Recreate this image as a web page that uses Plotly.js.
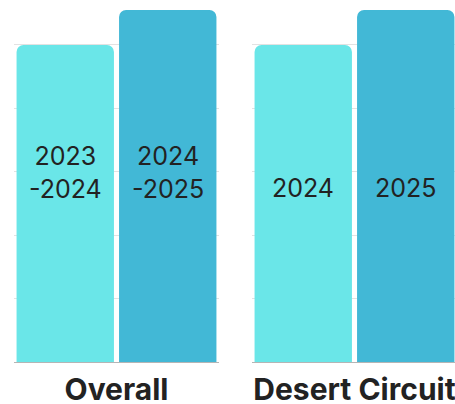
<!DOCTYPE html>
<html>
<head>
<meta charset="utf-8">
<script src="https://cdn.plot.ly/plotly-3.0.1.min.js"></script>
<style>html,body{margin:0;padding:0;background:#fff;}#chart{width:455px;height:404px;}</style>
</head>
<body>
<div id="chart"></div>
<script>
// Data
const groups = ['Overall', 'Desert Circuit'];
const seriesPrevValues = [100, 100];
const seriesCurrValues = [111, 111];
const seriesPrevLabels = ['2023<br>-2024', '2024'];
const seriesCurrLabels = ['2024<br>-2025', '2025'];

const colorPrev = '#6AE6E8';
const colorCurr = '#42B8D6';
const axisMax = 111;

const traces = [];
const annotations = [];
groups.forEach((g, i) => {
  const xa = i === 0 ? 'x' : 'x2';
  const ya = i === 0 ? 'y' : 'y2';
  traces.push({type: 'bar', x: [g], y: [seriesPrevValues[i]], xaxis: xa, yaxis: ya,
    marker: {color: colorPrev}, hoverinfo: 'none', showlegend: false});
  traces.push({type: 'bar', x: [g], y: [seriesCurrValues[i]], xaxis: xa, yaxis: ya,
    marker: {color: colorCurr}, hoverinfo: 'none', showlegend: false});
  [[seriesPrevLabels[i], -0.25], [seriesCurrLabels[i], 0.25]].forEach(([t, off]) => {
    const lines = t.split('<br>').length;
    annotations.push({xref: xa, yref: ya, x: off, y: axisMax / 2, text: t, showarrow: false,
      yanchor: 'middle', yshift: (lines - 1) * 16 - 2,
      font: {family: 'Inter, sans-serif', size: 25, color: '#222'}});
  });
});

const yaxisCommon = {range: [0, axisMax], dtick: 20, showticklabels: false, gridcolor: '#e2e2e2',
  gridwidth: 1, zeroline: true, zerolinecolor: '#b5b5b5', zerolinewidth: 1, fixedrange: true};
const xaxisCommon = {showgrid: false, zeroline: false, ticks: '', showline: false, ticklabelstandoff: 7,
  tickfont: {family: 'Inter, sans-serif', size: 30, color: '#222', weight: 700}};

const layout = {
  width: 455, height: 404,
  margin: {l: 0, r: 0, t: 10, b: 42},
  paper_bgcolor: '#fff', plot_bgcolor: '#fff',
  barmode: 'group', bargap: 0, bargroupgap: 0.05, barcornerradius: 7,
  showlegend: false,
  xaxis: Object.assign({}, xaxisCommon, {domain: [14/455, 219/455], range: [-0.5, 0.5], anchor: 'y'}),
  xaxis2: Object.assign({}, xaxisCommon, {domain: [252/455, 1], range: [-0.5, -0.5 + 203/205], anchor: 'y2'}),
  yaxis: Object.assign({}, yaxisCommon, {anchor: 'x'}),
  yaxis2: Object.assign({}, yaxisCommon, {anchor: 'x2'}),
  annotations: annotations
};

Plotly.newPlot('chart', traces, layout, {displayModeBar: false, staticPlot: true});
</script>
</body>
</html>
